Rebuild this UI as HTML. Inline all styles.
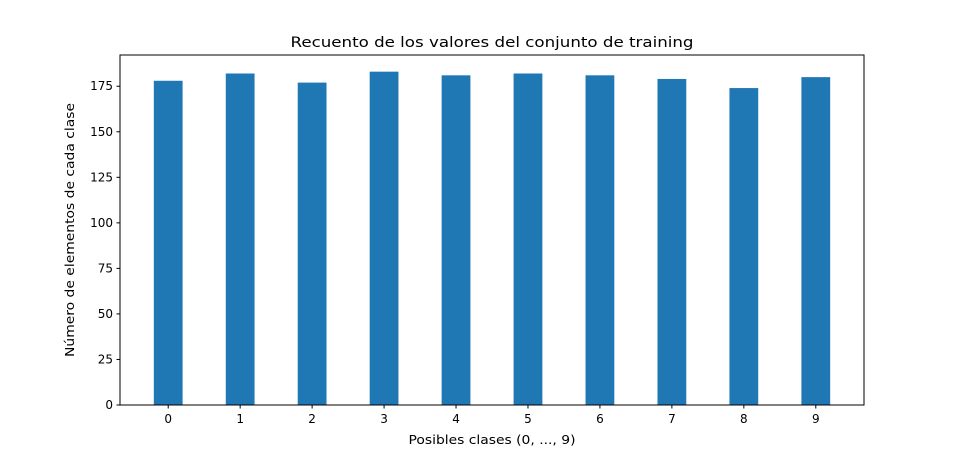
<!DOCTYPE html>
<html><head><meta charset="utf-8"><style>
body{margin:0;background:#fff;}
svg{display:block;font-family:"DejaVu Sans","Liberation Sans",sans-serif;}
</style></head><body>
<svg id="chart" width="960" height="455">
<rect width="960" height="455" fill="#fff"/>
<g id="plot"></g>
<text x="492" y="47" font-size="14.4" text-anchor="middle" textLength="403" lengthAdjust="spacingAndGlyphs">Recuento de los valores del conjunto de training</text>
<text x="492" y="444" font-size="12.5" text-anchor="middle" textLength="167" lengthAdjust="spacingAndGlyphs">Posibles clases (0, ..., 9)</text>
<text transform="translate(74,230) rotate(-90)" font-size="12.5" text-anchor="middle" textLength="254" lengthAdjust="spacingAndGlyphs">Número de elementos de cada clase</text>
</svg>
<script>
const categories = ["0","1","2","3","4","5","6","7","8","9"];
const counts = [178,182,177,183,181,182,181,179,174,180];
const yTicks = [0,25,50,75,100,125,150,175];

const L=120,R=864,T=55,B=405;
const barW=0.4;
const xMin=-0.5+(0.5-barW/2)-0.05*(categories.length-1+barW), xMax=categories.length-1+barW/2+0.05*(categories.length-1+barW);
const yMax=Math.max(...counts)*1.05;
const xs=v=>L+(v-xMin)/(xMax-xMin)*(R-L);
const ys=v=>B-v/yMax*(B-T);
const NS="http://www.w3.org/2000/svg";
const g=document.getElementById('plot');
function mk(t,a){const e=document.createElementNS(NS,t);for(const k in a)e.setAttribute(k,a[k]);g.appendChild(e);return e;}
counts.forEach((c,i)=>{
  const r=mk('rect',{x:xs(i-barW/2),y:ys(c),width:xs(i+barW/2)-xs(i-barW/2),height:ys(0)-ys(c),fill:'#1f77b4'});
  
  
});
const fr=mk('rect',{x:L,y:T,width:R-L,height:B-T,fill:'none',stroke:'#000','stroke-width':1});


categories.forEach((c,i)=>{
  const x=xs(i);
  mk('line',{x1:x,x2:x,y1:B,y2:B+3.5,stroke:'#000'});
  const t=mk('text',{x:x,y:B+18,'font-size':12,'text-anchor':'middle'});
  t.textContent=c;
  
  
});
yTicks.forEach(v=>{
  const y=ys(v);
  mk('line',{x1:L-3.5,x2:L,y1:y,y2:y,stroke:'#000'});
  const t=mk('text',{x:L-7,y:y+4,'font-size':12,'text-anchor':'end'});
  t.textContent=v;
  
  
});
</script>
</body></html>
